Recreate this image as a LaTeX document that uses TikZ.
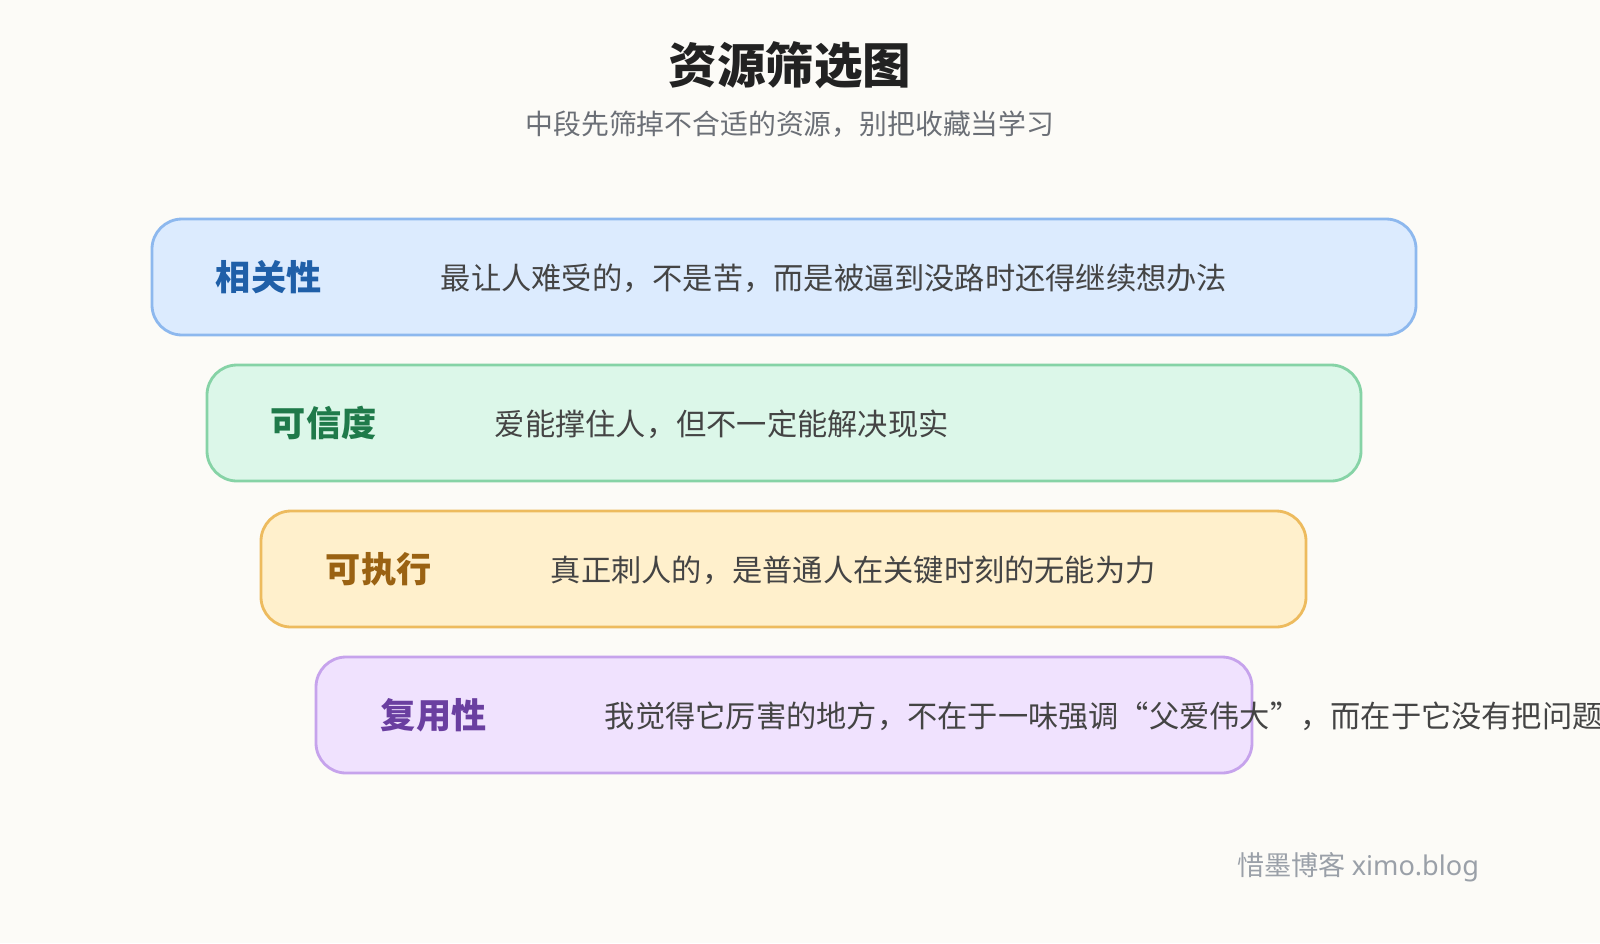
\documentclass[tikz,border=0pt]{standalone}
\usepackage{fontspec}
\newfontfamily\cjk{Noto Sans CJK SC}
\newfontfamily\latin{Noto Sans}
\usetikzlibrary{positioning}
\definecolor{bgcol}{HTML}{FCFBF7}
\definecolor{bluefill}{HTML}{DCEBFE}\definecolor{blueline}{HTML}{8DB8EE}\definecolor{bluetext}{HTML}{1F5FA8}
\definecolor{greenfill}{HTML}{DCF7E9}\definecolor{greenline}{HTML}{86D3A6}\definecolor{greentext}{HTML}{1F7A4A}
\definecolor{orangefill}{HTML}{FFF0CC}\definecolor{orangeline}{HTML}{EDBB5E}\definecolor{orangetext}{HTML}{9A6212}
\definecolor{purplefill}{HTML}{F0E2FE}\definecolor{purpleline}{HTML}{C6A3EC}\definecolor{purpletext}{HTML}{6A3FA0}
\definecolor{bodytext}{HTML}{444444}
\definecolor{titletext}{HTML}{222222}
\definecolor{subtext}{HTML}{6B6F76}
\definecolor{marktext}{HTML}{9AA0A8}
\begin{document}
\begin{tikzpicture}[x=0.025cm,y=-0.025cm,
    band/.style={draw,line width=2pt,rounded corners=0.75cm},
    tag/.style={anchor=west,font=\cjk\fontsize{25}{28}\selectfont\bfseries},
    body/.style={anchor=west,text=bodytext,font=\cjk\fontsize{21.5}{24}\selectfont}]
  \fill[bgcol] (0,0) rectangle (1600,943);
  \useasboundingbox (0,0) rectangle (1600,943);

  \node[text=titletext] (title) at (790,65) {\cjk\fontsize{34.5}{40}\selectfont\bfseries 资源筛选图};
  \node[text=subtext] (subtitle) at (790,124) {\cjk\fontsize{19.8}{23}\selectfont 中段先筛掉不合适的资源，别把收藏当学习};

  % bands
  \draw[band,fill=bluefill,draw=blueline] (152,219) rectangle (1416,335);
  \node[tag,text=bluetext] (t1) at (211,277) {相关性};
  \node[body] (b1) at (436,278) {最让人难受的，不是苦，而是被逼到没路时还得继续想办法};

  \draw[band,fill=greenfill,draw=greenline] (207,365) rectangle (1361,481);
  \node[tag,text=greentext] (t2) at (266,423) {可信度};
  \node[body] (b2) at (490,424) {爱能撑住人，但不一定能解决现实};

  \draw[band,fill=orangefill,draw=orangeline] (261,511) rectangle (1306,627);
  \node[tag,text=orangetext] (t3) at (321,569) {可执行};
  \node[body] (b3) at (546,570) {真正刺人的，是普通人在关键时刻的无能为力};

  \draw[band,fill=purplefill,draw=purpleline] (316,657) rectangle (1252,773);
  \node[tag,text=purpletext] (t4) at (376,715) {复用性};
  \node[body] (b4) at (600,716) {我觉得它厉害的地方，不在于一味强调“父爱伟大”，而在于它没有把问题};

  \node[anchor=east,text=marktext] (mark) at (1484,867) {\cjk\fontsize{19.3}{23}\selectfont 惜墨博客 {\latin ximo.blog}};
\end{tikzpicture}
\end{document}
